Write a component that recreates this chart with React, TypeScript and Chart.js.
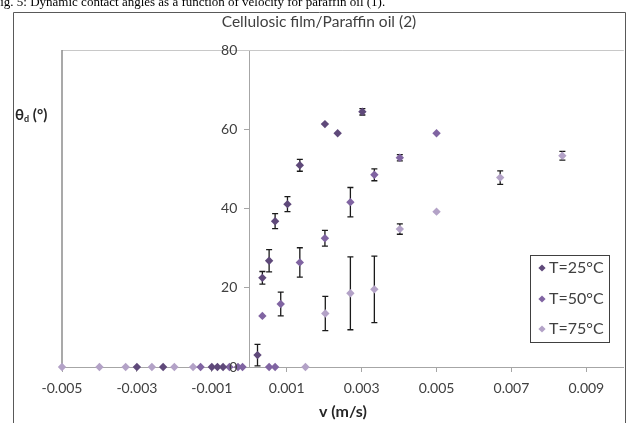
import React, { useEffect, useRef } from "react";
import { Chart, registerables } from "chart.js";

Chart.register(...registerables);

const captionText = "Fig. 5: Dynamic contact angles as a function of velocity for paraffin oil (1).";
const chartTitle = "Cellulosic film/Paraffin oil (2)";
const xAxisTitle = "v (m/s)";
const seriesLabels = ["T=25°C", "T=50°C", "T=75°C"];
const seriesColors = ["#5F497A", "#8064A2", "#B3A2C7"];

const xTickValues = [-0.005, -0.003, -0.001, 0.001, 0.003, 0.005, 0.007, 0.009];
const xTickLabels = ["-0.005", "-0.003", "-0.001", "0.001", "0.003", "0.005", "0.007", "0.009"];
const yTickValues = [0, 20, 40, 60, 80];
const yTickLabels = ["0", "20", "40", "60", "80"];

// T = 25 °C
const vT25 = [-0.003, -0.0023, -0.001, -0.00085, -0.0007, 0.00022, 0.00035, 0.00053, 0.00069, 0.00102, 0.00135, 0.00202, 0.00236, 0.00302];
const thetaT25 = [0, 0, 0, 0, 0, 3.0, 22.5, 26.8, 36.8, 41.1, 50.9, 61.3, 59.0, 64.4];
const errT25 = [0, 0, 0, 0, 0, 2.7, 1.6, 2.8, 1.9, 1.9, 1.5, 0, 0, 0.8];

// T = 50 °C
const vT50 = [-0.0013, -0.00053, -0.0003, -0.00018, 0.00035, 0.00053, 0.00069, 0.00084, 0.00135, 0.00202, 0.0027, 0.00334, 0.00402, 0.005];
const thetaT50 = [0, 0, 0, 0, 12.9, 0, 0, 15.9, 26.4, 32.5, 41.6, 48.5, 52.8, 59.0];
const errT50 = [0, 0, 0, 0, 0, 0, 0, 3.0, 3.7, 2.0, 3.7, 1.5, 0.8, 0];

// T = 75 °C
const vT75 = [-0.005, -0.004, -0.0033, -0.0026, -0.002, -0.0015, 0.0015, 0.00203, 0.0027, 0.00334, 0.00402, 0.005, 0.0067, 0.00836];
const thetaT75 = [0, 0, 0, 0, 0, 0, 0, 13.5, 18.6, 19.6, 34.8, 39.2, 47.8, 53.3];
const errT75 = [0, 0, 0, 0, 0, 0, 0, 4.3, 9.2, 8.4, 1.3, 0, 1.7, 1.1];

const seriesV = [vT25, vT50, vT75];
const seriesTheta = [thetaT25, thetaT50, thetaT75];
const seriesErr = [errT25, errT50, errT75];

const FONT = "Lato, 'Open Sans', sans-serif";
const TEXT = "#404040";

const decorPlugin = {
  id: "decor",
  beforeDraw(chart: any) {
    const ctx = chart.ctx;
    ctx.save();
    ctx.fillStyle = "#ffffff";
    ctx.fillRect(0, 0, chart.width, chart.height);
    // caption (cut off at top of image)
    ctx.fillStyle = "#000000";
    ctx.font = "13px 'Liberation Serif', serif";
    ctx.textBaseline = "alphabetic";
    ctx.textAlign = "left";
    ctx.fillText(captionText, -7, 6);
    // outer box
    ctx.strokeStyle = "#595959";
    ctx.lineWidth = 1;
    ctx.beginPath();
    ctx.moveTo(13.5, chart.height);
    ctx.lineTo(13.5, 12.5);
    ctx.lineTo(625.5, 12.5);
    ctx.lineTo(625.5, chart.height);
    ctx.stroke();
    // chart title
    ctx.fillStyle = TEXT;
    ctx.font = `15.5px ${FONT}`;
    ctx.textAlign = "center";
    ctx.textBaseline = "middle";
    ctx.fillText(chartTitle, 319, 22);
    // y axis title θd (°)
    ctx.textAlign = "left";
    ctx.textBaseline = "alphabetic";
    ctx.fillStyle = "#262626";
    let x = 15;
    ctx.font = `bold 15px ${FONT}`;
    ctx.fillText("θ", x, 120);
    x += ctx.measureText("θ").width;
    ctx.font = `bold 9px ${FONT}`;
    ctx.fillText("d", x, 122);
    x += ctx.measureText("d").width;
    ctx.font = `bold 15px ${FONT}`;
    ctx.fillText(" (°)", x, 120);
    ctx.restore();
  },
  beforeDatasetsDraw(chart: any) {
    const { ctx, chartArea, scales } = chart;
    ctx.save();
    // plot area border
    ctx.strokeStyle = "#c8c8c8";
    ctx.lineWidth = 1;
    ctx.beginPath();
    ctx.moveTo(chartArea.left, chartArea.top + 0.5);
    ctx.lineTo(chartArea.right, chartArea.top + 0.5);
    ctx.stroke();
    ctx.strokeStyle = "#8c8c8c";
    ctx.lineWidth = 1.5;
    ctx.beginPath();
    ctx.moveTo(chartArea.left, chartArea.top);
    ctx.lineTo(chartArea.left, chartArea.bottom);
    ctx.stroke();
    // error bars
    ctx.strokeStyle = "#1a1a1a";
    ctx.lineWidth = 1.3;
    seriesV.forEach((vs, i) => {
      vs.forEach((v, j) => {
        const e = seriesErr[i][j];
        if (!e) return;
        const px = scales.x.getPixelForValue(v);
        const yTop = scales.y.getPixelForValue(seriesTheta[i][j] + e);
        const yBot = scales.y.getPixelForValue(seriesTheta[i][j] - e);
        ctx.beginPath();
        ctx.moveTo(px, yTop);
        ctx.lineTo(px, yBot);
        ctx.moveTo(px - 3, yTop);
        ctx.lineTo(px + 3, yTop);
        ctx.moveTo(px - 3, yBot);
        ctx.lineTo(px + 3, yBot);
        ctx.stroke();
      });
    });
    ctx.restore();
  },
  afterDatasetsDraw(chart: any) {
    // y tick labels, left of the axis that crosses at v = 0
    const { ctx, scales } = chart;
    ctx.save();
    ctx.fillStyle = TEXT;
    ctx.font = `14px ${FONT}`;
    ctx.textAlign = "right";
    ctx.textBaseline = "middle";
    const ax = scales.x.getPixelForValue(0);
    yTickValues.forEach((v, i) => {
      ctx.fillText(yTickLabels[i], ax - 12, scales.y.getPixelForValue(v));
    });
    ctx.restore();
  },
  afterDraw(chart: any) {
    const ctx = chart.ctx;
    ctx.save();
    ctx.fillStyle = "#ffffff";
    ctx.fillRect(530, 255, 79, 87);
    ctx.strokeStyle = "#404040";
    ctx.lineWidth = 1;
    ctx.strokeRect(530.5, 255.5, 79, 87);
    const ys = [268, 299, 329];
    seriesLabels.forEach((lab, i) => {
      const cx = 542;
      const cy = ys[i];
      const r = 3.6;
      ctx.fillStyle = seriesColors[i];
      ctx.beginPath();
      ctx.moveTo(cx, cy - r);
      ctx.lineTo(cx + r, cy);
      ctx.lineTo(cx, cy + r);
      ctx.lineTo(cx - r, cy);
      ctx.closePath();
      ctx.fill();
      ctx.fillStyle = TEXT;
      ctx.font = `16px ${FONT}`;
      ctx.textAlign = "left";
      ctx.textBaseline = "middle";
      ctx.fillText(lab, 549, cy);
    });
    ctx.restore();
  },
};

export default function App() {
  const ref = useRef<HTMLCanvasElement | null>(null);
  useEffect(() => {
    if (!ref.current) return;
    const datasets = seriesLabels.map((label, i) => ({
      label,
      data: seriesV[i].map((v, j) => ({ x: v, y: seriesTheta[i][j] })),
      showLine: false,
      clip: false,
      pointStyle: "rectRot",
      pointRadius: 4.2,
      pointBorderWidth: 0,
      backgroundColor: seriesColors[i],
      borderColor: seriesColors[i],
    }));
    const chart = new Chart(ref.current, {
      type: "scatter",
      data: { datasets },
      plugins: [decorPlugin],
      options: {
        animation: false,
        responsive: false,
        devicePixelRatio: 1,
        layout: { padding: { left: 62, right: 3, top: 50, bottom: 0 } },
        plugins: {
          legend: { display: false },
          title: { display: false },
          tooltip: { enabled: false },
        },
        scales: {
          x: {
            type: "linear",
            min: -0.005,
            max: 0.01,
            position: "bottom",
            afterBuildTicks: (s: any) => {
              s.ticks = xTickValues.map((v) => ({ value: v }));
            },
            afterFit: (s: any) => {
              s.height = 56;
            },
            grid: { drawOnChartArea: false, drawTicks: true, tickLength: 5, color: "#a6a6a6" },
            border: { display: true, color: "#a6a6a6", width: 1 },
            ticks: {
              autoSkip: false,
              maxRotation: 0,
              padding: 8,
              color: TEXT,
              font: { family: FONT, size: 14 },
              callback: (_v: any, i: number) => xTickLabels[i],
            },
            title: {
              display: true,
              text: xAxisTitle,
              color: "#262626",
              font: { family: FONT, size: 16, weight: "bold" },
              padding: { top: 0, bottom: 2 },
            },
          },
          y: {
            type: "linear",
            min: 0,
            max: 80,
            position: { x: 0 },
            afterBuildTicks: (s: any) => {
              s.ticks = yTickValues.map((v) => ({ value: v }));
            },
            grid: { drawOnChartArea: false, drawTicks: true, tickLength: 5, color: "#a6a6a6" },
            border: { display: true, color: "#a6a6a6", width: 1 },
            ticks: { display: false },
          },
        },
      } as any,
    });
    return () => chart.destroy();
  }, []);
  return (
    <div style={{ position: "absolute", left: 0, top: 0, width: 628, height: 423, background: "#fff" }}>
      <canvas ref={ref} width={628} height={423} style={{ width: 628, height: 423, display: "block" }} />
    </div>
  );
}
